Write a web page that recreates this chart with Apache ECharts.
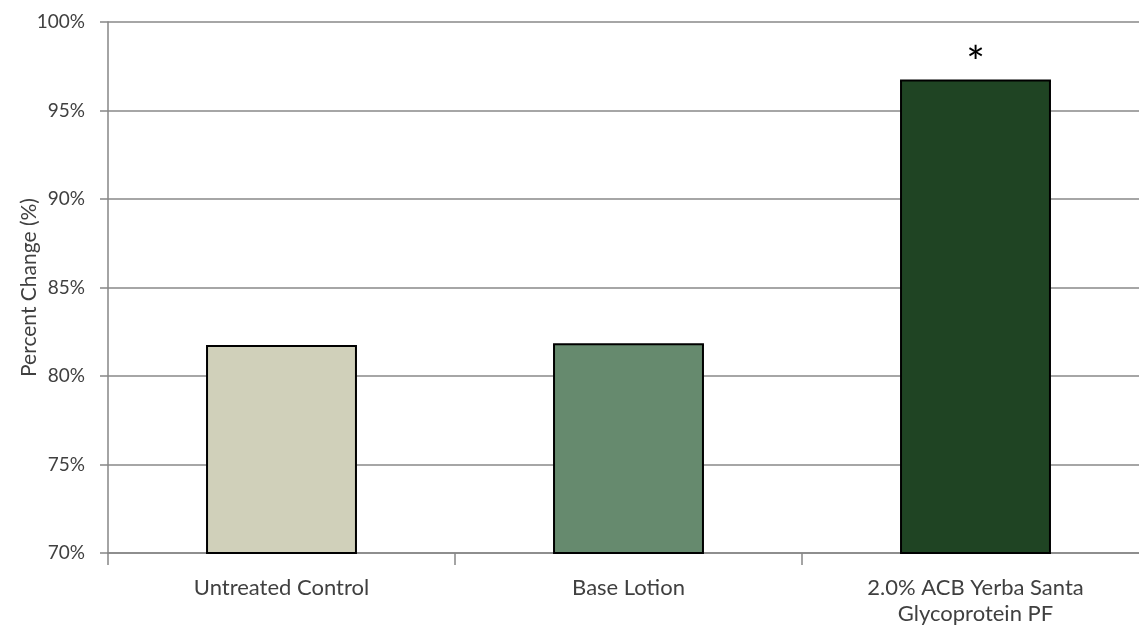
<!DOCTYPE html>
<html><head><meta charset="utf-8">
<script src="https://cdn.jsdelivr.net/npm/echarts@6/dist/echarts.min.js"></script>
<style>html,body{margin:0;padding:0;background:#fff;overflow:hidden}#c{width:1150px;height:631px}</style>
</head><body><div id="c"></div>
<script>
const categories = ['Untreated Control', 'Base Lotion', '2.0% ACB Yerba Santa\nGlycoprotein PF'];
const values = [81.75, 81.85, 96.75];
const barColors = ['#D0D0BA', '#668A6E', '#1F4423'];
const significance = ['', '', '*'];
const yTicks = [70, 75, 80, 85, 90, 95, 100];

const font = 'Lato, "Open Sans", sans-serif';
const chart = echarts.init(document.getElementById('c'));
chart.setOption({
  animation: false,
  grid: { left: 108, right: 1, top: 22, height: 531, outerBoundsMode: 'none' },
  xAxis: {
    type: 'category', data: categories,
    axisLine: { lineStyle: { color: '#868686', width: 1.5 } },
    axisTick: { show: true, length: 12, lineStyle: { color: '#868686', width: 1.5 } },
    axisLabel: { color: '#404040', fontSize: 22, fontFamily: font, margin: 22, lineHeight: 26 }
  },
  yAxis: {
    type: 'value', min: yTicks[0], max: yTicks[yTicks.length - 1], interval: 5,
    name: 'Percent Change (%)', nameLocation: 'middle', nameGap: 68, nameRotate: 90,
    nameMoveOverlap: false,
    nameTextStyle: { color: '#404040', fontSize: 21, fontFamily: font },
    axisLine: { show: true, lineStyle: { color: '#868686', width: 1.5 } },
    axisTick: { show: true, length: 8, inside: false, lineStyle: { color: '#868686', width: 1.5 } },
    splitLine: { lineStyle: { color: '#A6A6A6', width: 2 } },
    axisLabel: { color: '#404040', fontSize: 19, fontFamily: font, margin: 23, formatter: v => v + '%' }
  },
  series: [{
    type: 'bar', barWidth: '43.5%',
    data: values.map((v, i) => ({ value: v, itemStyle: { color: barColors[i] },
      label: { show: significance[i] !== '', formatter: significance[i] } })),
    itemStyle: { borderColor: '#000', borderWidth: 2 },
    label: { position: 'top', distance: -6, fontSize: 44, color: '#000', fontFamily: font }
  }]
});
</script></body></html>
